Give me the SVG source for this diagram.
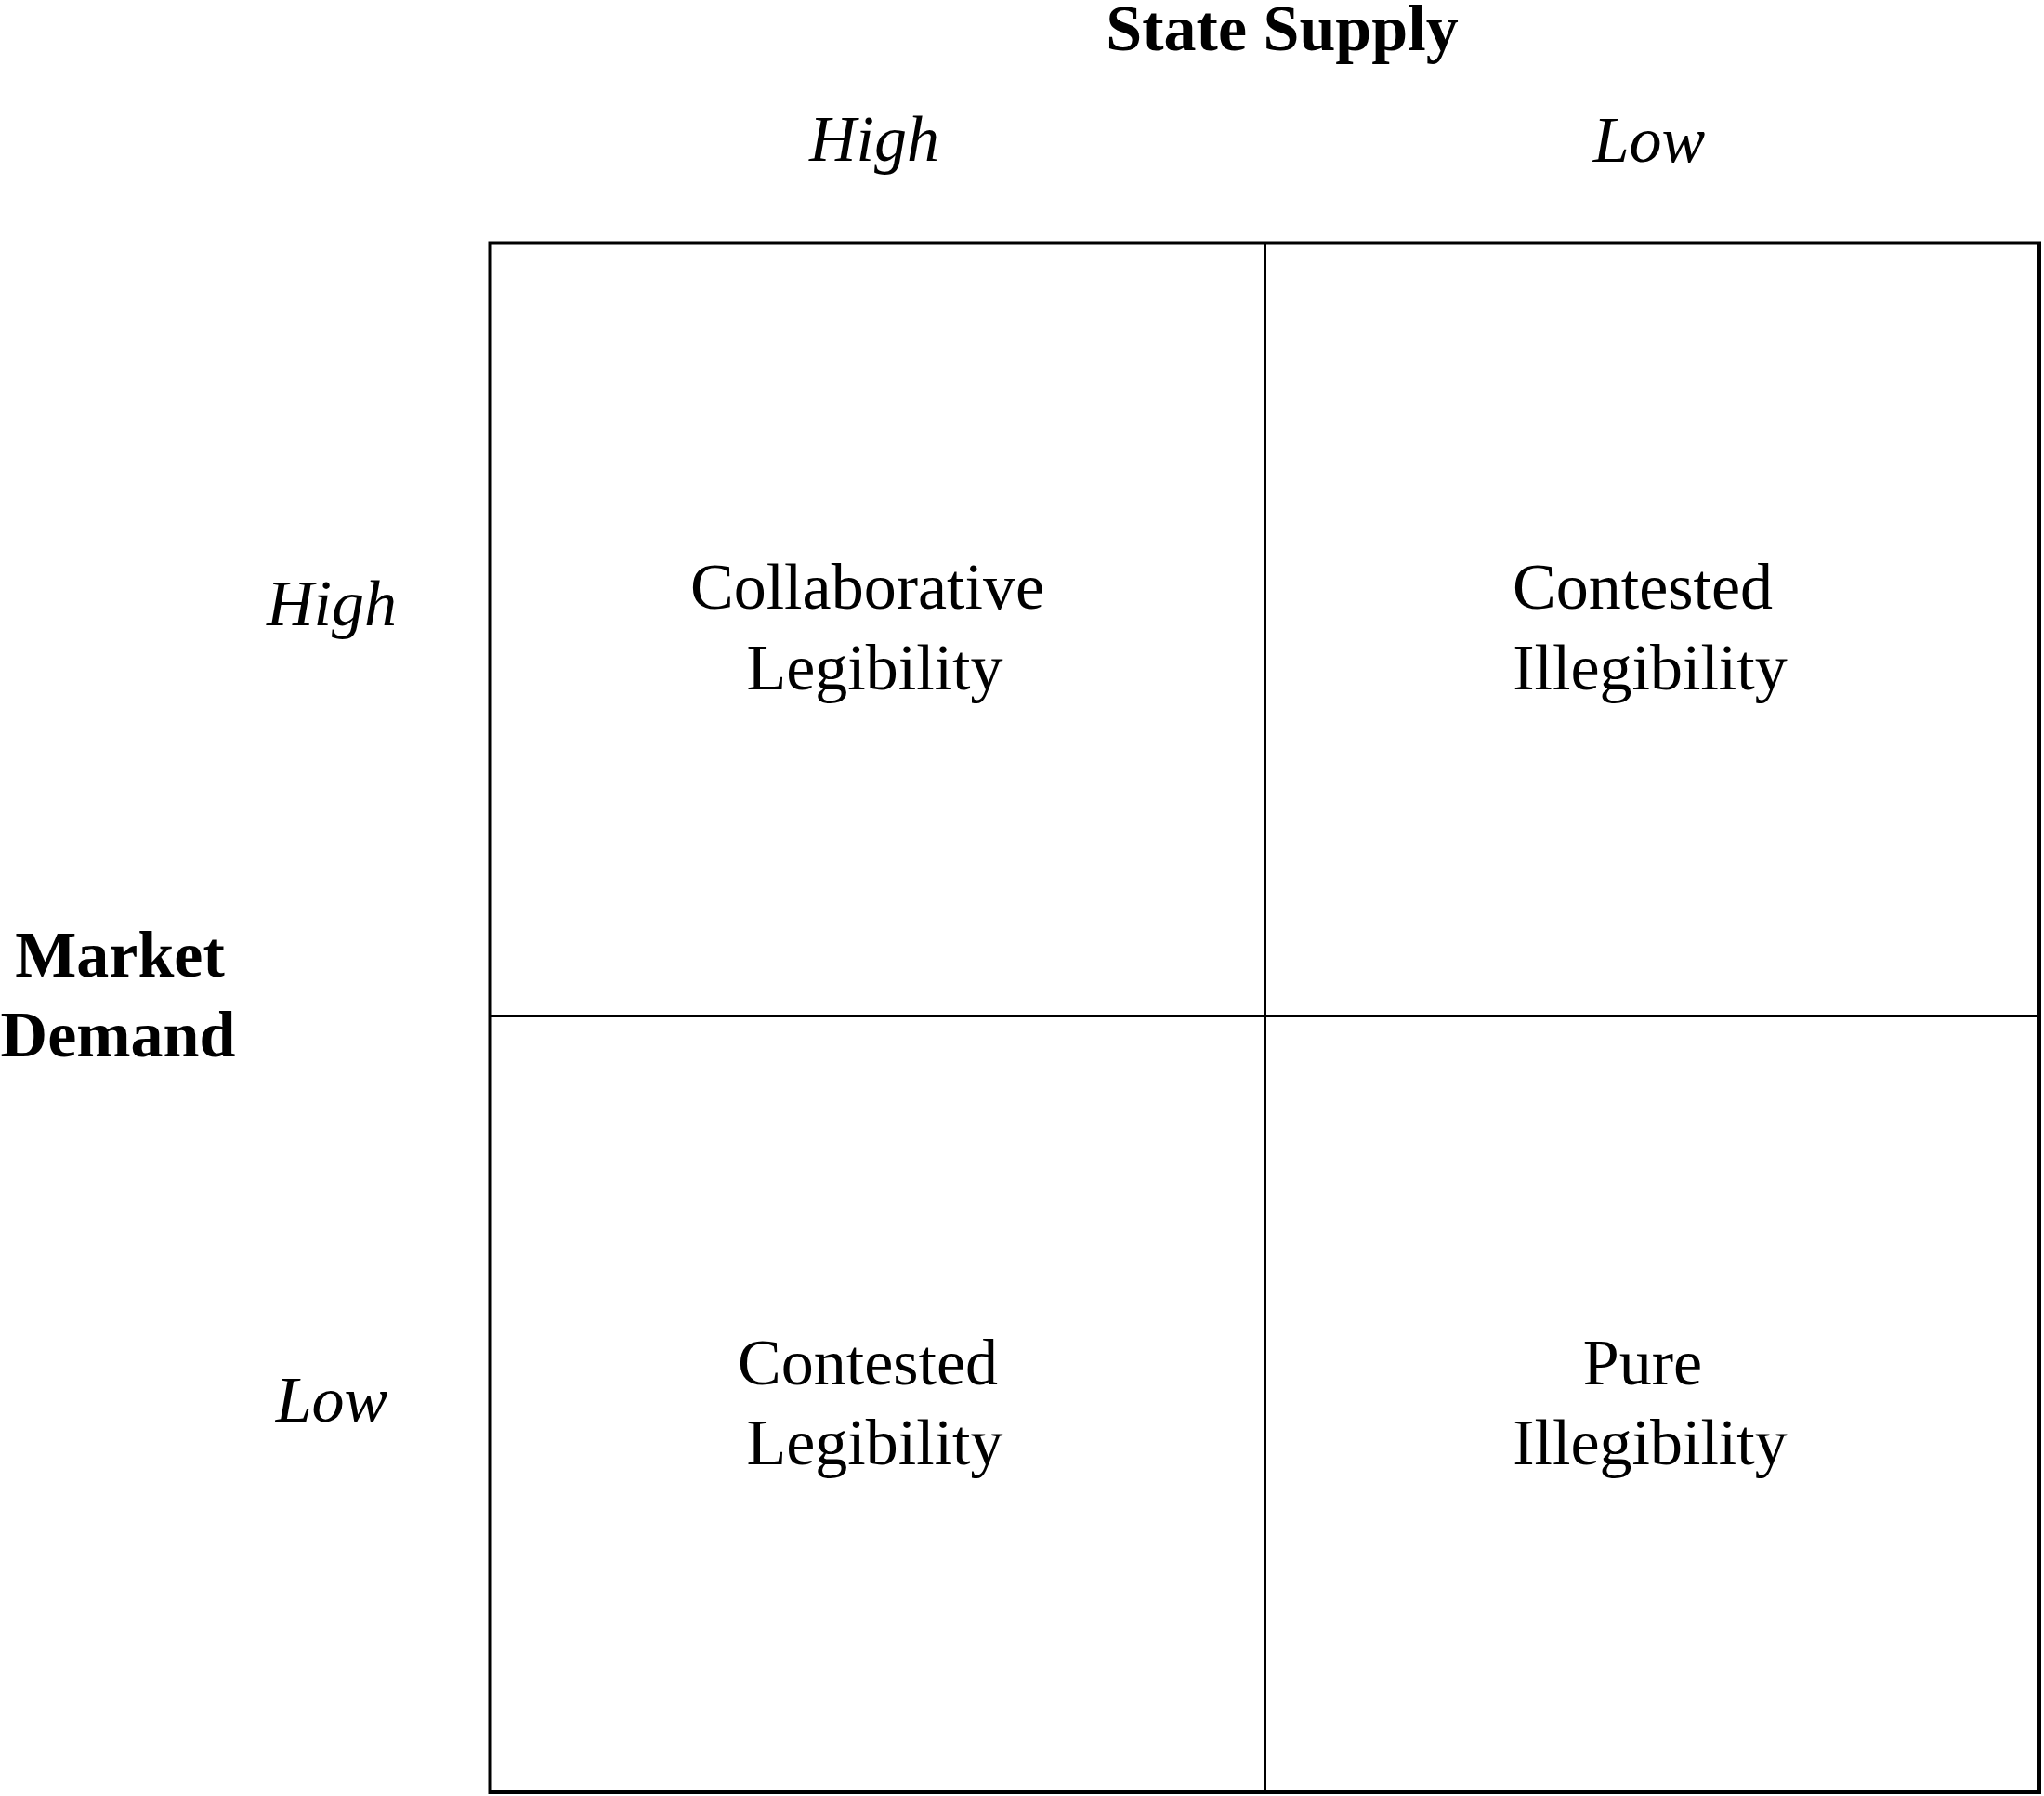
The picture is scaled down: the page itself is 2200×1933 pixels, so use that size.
<svg xmlns="http://www.w3.org/2000/svg" width="2200" height="1933" viewBox="0 0 2200 1933">
<style>
text{font-family:"Liberation Serif","Times New Roman",serif;font-size:70px;fill:#000;text-anchor:middle}
.b{font-weight:bold}
.i{font-style:italic}
.outer{fill:none;stroke:#000;stroke-width:4}
.inner{fill:none;stroke:#000;stroke-width:3}
</style>
<rect width="2200" height="1933" fill="#fff"/>
<g id="axis-labels">
<text class="b" x="1380" y="54">State Supply</text>
<text class="i" x="941" y="173">High</text>
<text class="i" x="1775" y="174">Low</text>
<text class="b" x="129" y="1051">Market</text>
<text class="b" x="127" y="1137">Demand</text>
<text class="i" x="357" y="673">High</text>
<text class="i" x="357" y="1530">Low</text>
</g>
<g id="grid">
<rect class="outer" x="527.5" y="261.5" width="1667.5" height="1667.5"/>
<line class="inner" x1="1361.5" y1="261.5" x2="1361.5" y2="1929"/>
<line class="inner" x1="527.5" y1="1093.5" x2="2195" y2="1093.5"/>
</g>
<g id="cell-collaborative-legibility">
<text x="933.5" y="655">Collaborative</text>
<text x="941.5" y="742">Legibility</text>
</g>
<g id="cell-contested-illegibility">
<text x="1768" y="655">Contested</text>
<text x="1776" y="742">Illegibility</text>
</g>
<g id="cell-contested-legibility">
<text x="934" y="1490">Contested</text>
<text x="941.5" y="1576">Legibility</text>
</g>
<g id="cell-pure-illegibility">
<text x="1768" y="1490">Pure</text>
<text x="1776" y="1576">Illegibility</text>
</g>
</svg>
